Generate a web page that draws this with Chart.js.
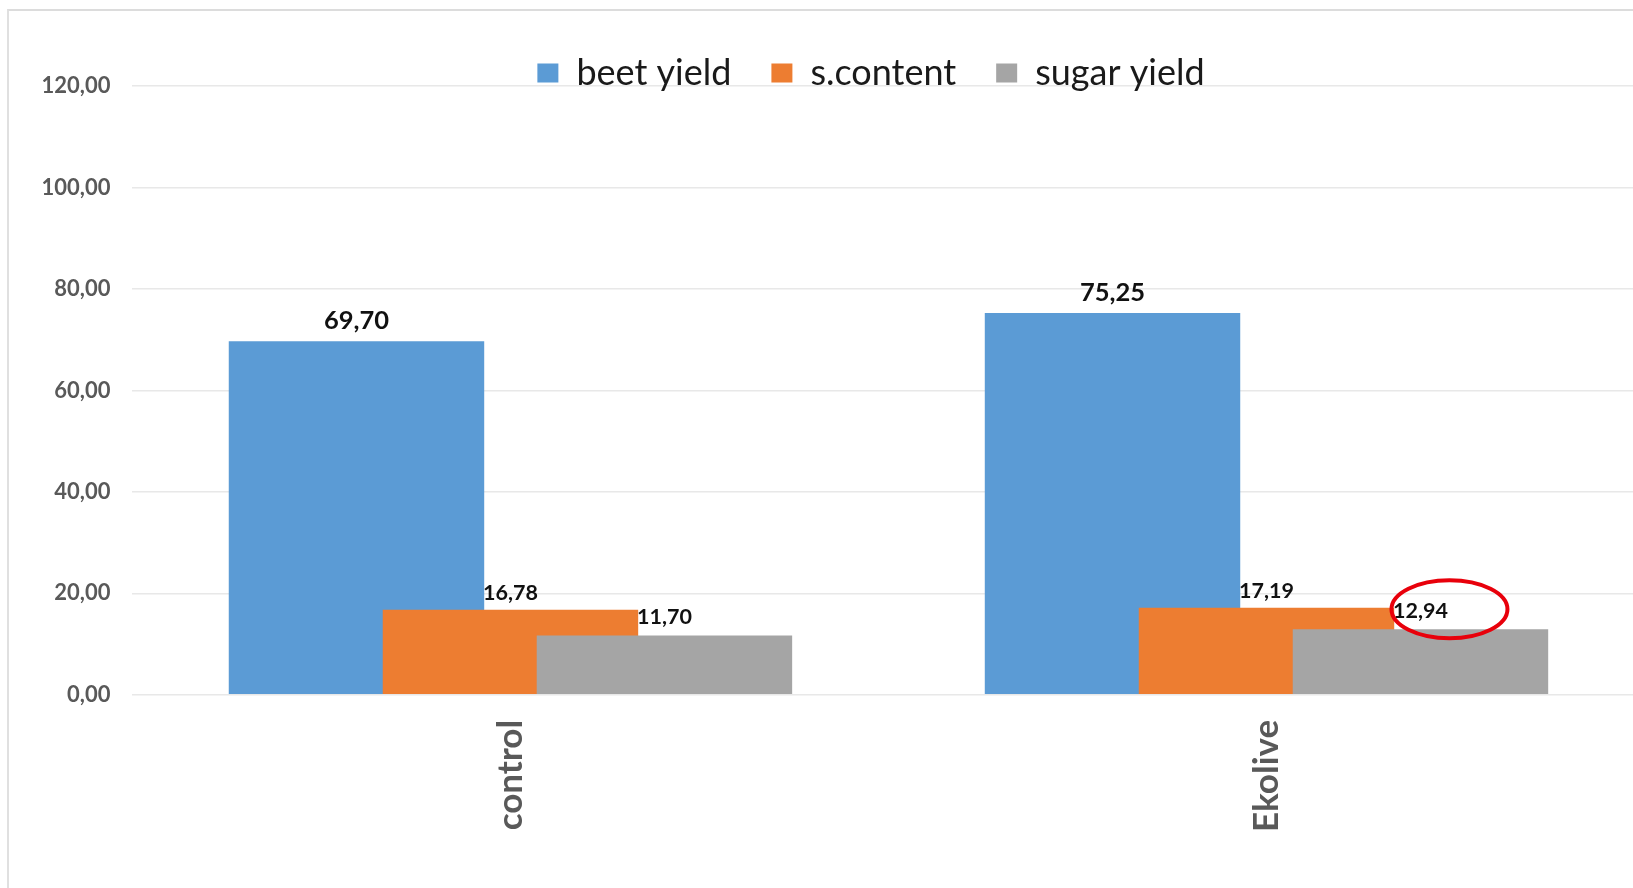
<!DOCTYPE html>
<html>
<head>
<meta charset="utf-8">
<script src="https://cdn.jsdelivr.net/npm/chart.js@4.4.1/dist/chart.umd.min.js"></script>
<style>
  html, body { margin: 0; padding: 0; background: #fff; overflow: hidden; }
  #frame { position: absolute; left: 7px; top: 9px; width: 1700px; height: 900px;
           border-left: 2px solid #e0e0e0; border-top: 2px solid #dcdcdc; }
  #wrap { position: absolute; left: 0; top: 0; width: 1650px; height: 888px; }
</style>
</head>
<body>
<div id="frame"></div>
<div id="wrap"><canvas id="yieldChart"></canvas></div>
<script>
// data
const categories = ["control", "Ekolive"];
const seriesNames = ["beet yield", "s.content", "sugar yield"];
const beetYield = [69.70, 75.25];
const sugarContent = [16.78, 17.19];
const sugarYield = [11.70, 12.94];
const yTicks = [0, 20, 40, 60, 80, 100, 120];

const colors = ["#5B9BD5", "#ED7D31", "#A5A5A5"];
const fmt = (v) => v.toFixed(2).replace(".", ",");

Chart.defaults.font.family = "Lato, 'Open Sans', sans-serif";

// draw datasets left to right so the later bar covers the earlier one
const drawInOrder = {
  id: "drawInOrder",
  beforeDatasetsDraw(chart) {
    chart.getSortedVisibleDatasetMetas().forEach((meta) => meta.controller.draw());
    return false;
  },
};

// value labels + the red mark around 12,94
const valueLabels = {
  id: "valueLabels",
  afterDraw(chart) {
    const ctx = chart.ctx;
    const style = [
      { size: 25.5, gap: 12 },
      { size: 21.5, gap: 10 },
      { size: 21.5, gap: 11 },
    ];
    ctx.save();
    ctx.fillStyle = "#111";
    ctx.textAlign = "center";
    ctx.textBaseline = "alphabetic";
    chart.data.datasets.forEach((ds, i) => {
      const meta = chart.getDatasetMeta(i);
      ctx.font = "bold " + style[i].size + "px Lato, sans-serif";
      meta.data.forEach((bar, j) => {
        ctx.fillText(fmt(ds.data[j]), bar.x, bar.y - style[i].gap);
      });
    });
    const mark = chart.getDatasetMeta(2).data[1];
    ctx.strokeStyle = "#e8000b";
    ctx.lineWidth = 4;
    ctx.beginPath();
    ctx.ellipse(mark.x + 29, mark.y - 20, 58, 29, 0, 0, Math.PI * 2);
    ctx.stroke();
    ctx.restore();
  },
};

// nudge the legend (it sits off-centre and very close to the plot)
const legendShift = {
  id: "legendShift",
  afterLayout(chart) {
    const lg = chart.legend;
    lg.left += 39;
    lg.right += 39;
    lg.top += 15;
    lg.bottom += 15;
  },
};

const ctx = document.getElementById("yieldChart").getContext("2d");
const yieldChart = new Chart(ctx, {
  type: "bar",
  data: {
    labels: categories,
    datasets: [beetYield, sugarContent, sugarYield].map((vals, i) => ({
      label: seriesNames[i],
      data: vals,
      backgroundColor: colors[i],
      borderWidth: 0,
      barPercentage: 1.659,
      categoryPercentage: 0.611,
    })),
  },
  options: {
    responsive: true,
    maintainAspectRatio: false,
    animation: false,
    layout: { padding: { left: 19.5, right: 5.5, top: 0, bottom: 31 } },
    plugins: {
      tooltip: { enabled: false },
      legend: {
        position: "top",
        labels: {
          color: "#1a1a1a",
          font: { size: 36 },
          boxWidth: 21,
          boxHeight: 19,
          padding: 40,
        },
      },
    },
    scales: {
      x: {
        grid: { display: false, drawTicks: false },
        border: { display: false },
        ticks: {
          minRotation: 90,
          maxRotation: 90,
          color: "#595959",
          font: { size: 35, weight: "bold" },
          padding: 25,
        },
      },
      y: {
        min: 0,
        max: 120,
        afterBuildTicks: (axis) => {
          axis.ticks = yTicks.map((v) => ({ value: v }));
        },
        grid: { color: "#e8e8e8", lineWidth: 1.5, drawTicks: false },
        border: { display: false },
        ticks: {
          color: "#595959",
          font: { size: 22, weight: "bold" },
          padding: 22,
          callback: (v) => fmt(v),
        },
      },
    },
  },
  plugins: [drawInOrder, valueLabels, legendShift],
});
</script>
</body>
</html>
